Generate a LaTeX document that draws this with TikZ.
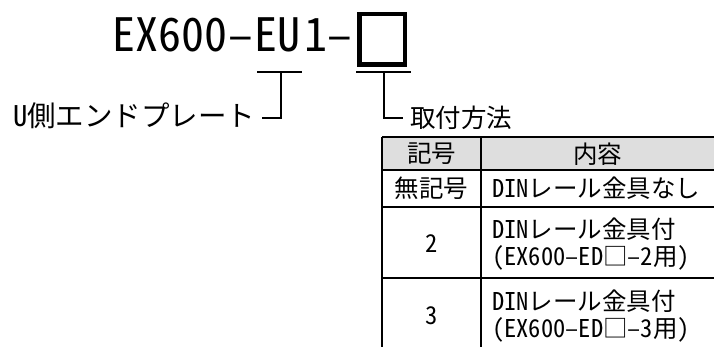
\documentclass[tikz,border=0pt]{standalone}
\usepackage{fontspec}
\setmainfont{Noto Sans CJK JP}
\newfontfamily\hw[RawFeature=+hwid]{Noto Sans CJK JP}
\begin{document}
\begin{tikzpicture}[x=1pt,y=-1pt,
  lead/.style={line width=1.6pt},
  tline/.style={line width=1.4pt},
  ttl/.style={inner sep=0pt, font=\hw\fontsize{46}{46}\selectfont},
  lbl/.style={inner sep=0pt, font=\fontsize{28.5}{28.5}\selectfont},
  hdr/.style={inner sep=0pt, font=\fontsize{25.5}{25.5}\selectfont},
  cell/.style={inner sep=0pt, align=left, font=\fontsize{24.5}{27}\selectfont},
]
\useasboundingbox (0,0) rectangle (714,347);
% title
\node[ttl, anchor=base west] (t1) at (112,52) {EX600};
\node[ttl, anchor=base] (t2) at (241,52) {–};
\node[ttl, anchor=base west] (t3) at (254,52) {EU};
\node[ttl, anchor=base west] (t4) at (304,52) {1–};
\node[draw, line width=4.5pt, minimum width=45.5pt, minimum height=50.5pt, inner sep=0pt] (box) at (382,39.5) {};
% leaders
\coordinate (uL) at (257,72); \coordinate (uR) at (302,72); \coordinate (uM) at (281,72);
\coordinate (bL) at (356,72); \coordinate (bR) at (411,72); \coordinate (bM) at (384,72);
\coordinate (uE) at (262,118); \coordinate (bE) at (403,118);
\node[lbl, anchor=west] (eu) at (13,116) {{\hw U}側エンドプレート};
\node[hdr, anchor=west] (mount) at (410,118) {取付方法};
\draw[lead] (uL) -- (uR);
\draw[lead] (uM) |- (uE);
\draw[lead] (bL) -- (bR);
\draw[lead] (bM) |- (bE);
% table
\fill[black!13] (382,137) rectangle (714,170);
\draw[tline] (382,137) -- (714,137);
\draw[tline] (382,170) -- (714,170);
\draw[tline] (382,207) -- (714,207);
\draw[tline] (382,278) -- (714,278);
\draw[tline] (382,137) -- (382,347);
\draw[tline] (481,137) -- (481,347);
\node[cell] (h1) at (431.5,154) {記号};
\node[cell] (h2) at (597.5,154) {内容};
\node[cell] (c11) at (431.5,188.5) {無記号};
\node[cell, anchor=west] (c12) at (492,188.5) {{\hw DIN}レール金具なし};
\node[cell] (c21) at (431.5,244) {{\hw 2}};
\node[cell, anchor=west] (c22) at (492,244) {{\hw DIN}レール金具付\\{\hw (EX600–ED}□{\hw –2}用{\hw )}};
\node[cell] (c31) at (431.5,316) {{\hw 3}};
\node[cell, anchor=west] (c32) at (492,316) {{\hw DIN}レール金具付\\{\hw (EX600–ED}□{\hw –3}用{\hw )}};
\end{tikzpicture}
\end{document}
